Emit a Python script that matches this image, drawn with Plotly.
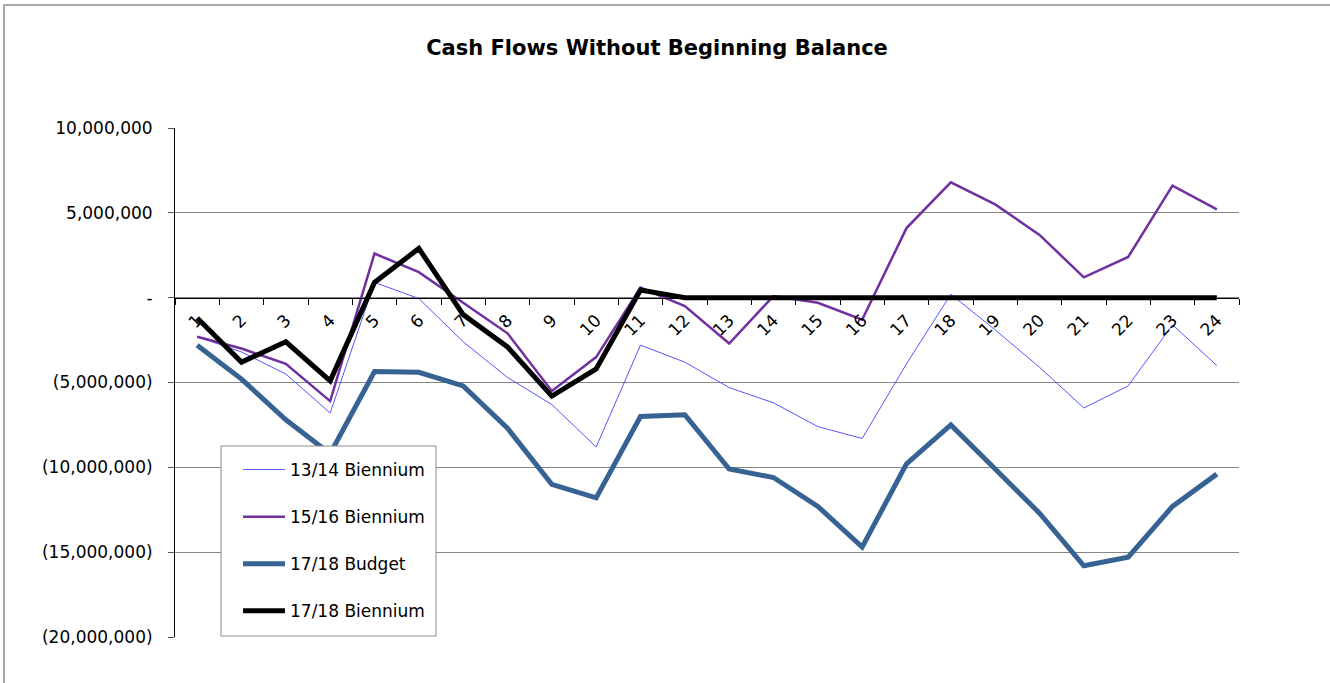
import plotly.graph_objects as go

periods = [str(i) for i in range(1, 25)]

biennium_13_14 = [-2.3e6, -3.2e6, -4.5e6, -6.8e6, 0.9e6, -0.05e6, -2.6e6, -4.7e6, -6.3e6, -8.8e6,
                  -2.8e6, -3.8e6, -5.3e6, -6.2e6, -7.6e6, -8.3e6, -3.9e6, 0.2e6, -1.9e6, -4.1e6,
                  -6.5e6, -5.2e6, -1.6e6, -4.0e6]
biennium_15_16 = [-2.3e6, -3.0e6, -3.9e6, -6.1e6, 2.6e6, 1.5e6, -0.3e6, -2.1e6, -5.5e6, -3.5e6,
                  0.6e6, -0.5e6, -2.7e6, 0.1e6, -0.3e6, -1.3e6, 4.1e6, 6.8e6, 5.5e6, 3.7e6,
                  1.2e6, 2.4e6, 6.6e6, 5.2e6]
budget_17_18 = [-2.8e6, -4.8e6, -7.2e6, -9.2e6, -4.35e6, -4.4e6, -5.2e6, -7.7e6, -11.0e6, -11.8e6,
                -7.0e6, -6.9e6, -10.1e6, -10.6e6, -12.3e6, -14.7e6, -9.8e6, -7.5e6, -10.1e6, -12.7e6,
                -15.8e6, -15.3e6, -12.3e6, -10.4e6]
biennium_17_18 = [-1.2e6, -3.8e6, -2.6e6, -4.9e6, 0.9e6, 2.9e6, -1.0e6, -2.9e6, -5.8e6, -4.2e6,
                  0.45e6, 0.0, 0.0, 0.0, 0.0, 0.0, 0.0, 0.0, 0.0, 0.0,
                  0.0, 0.0, 0.0, 0.0]

y_tickvals = [10e6, 5e6, 0, -5e6, -10e6, -15e6, -20e6]
y_ticktext = ["10,000,000", "5,000,000", "-", "(5,000,000)", "(10,000,000)", "(15,000,000)", "(20,000,000)"]

FONT = "DejaVu Sans, Arial, sans-serif"
FS = 17

fig = go.Figure()
series = [
    ("13/14 Biennium", biennium_13_14, "#5555ff", 1),
    ("15/16 Biennium", biennium_15_16, "#7030A0", 2.5),
    ("17/18 Budget", budget_17_18, "#376294", 5),
    ("17/18 Biennium", biennium_17_18, "#000000", 5),
]
for i, (name, vals, color, w) in enumerate(series):
    fig.add_trace(go.Scatter(x=periods, y=vals, mode="lines", name=name,
                             legendgroup=f"g{i}",
                             line=dict(color=color, width=w)))

L, R, T, B = 175, 91, 128, 46
W, H = 1330, 683
pw, ph = W - L - R, H - T - B


def px(x):
    return (x - L) / pw


def py(y):
    return (H - B - y) / ph


fig.update_layout(
    width=W, height=H,
    margin=dict(l=L, r=R, t=T, b=B),
    paper_bgcolor="white", plot_bgcolor="white",
    font=dict(family=FONT, size=FS, color="black"),
    title=dict(text="<b>Cash Flows Without Beginning Balance</b>",
               font=dict(family=FONT, size=21, color="black"),
               x=657 / W, xref="container", xanchor="center",
               y=1 - 48 / H, yref="container", yanchor="middle"),
    showlegend=True,
    legend=dict(x=px(238), y=py(452), xanchor="left", yanchor="top",
                bgcolor="rgba(0,0,0,0)", borderwidth=0,
                traceorder="grouped", tracegroupgap=22, itemwidth=42,
                font=dict(family=FONT, size=FS, color="black")),
    xaxis=dict(type="category", range=[-0.5, 23.5],
               anchor="free", position=2 / 3,
               showline=True, linecolor="black", linewidth=1,
               ticks="outside", tickson="boundaries", ticklen=6, tickcolor="black",
               tickangle=-45, showgrid=False, zeroline=False,
               ticklabelstandoff=5,
               tickfont=dict(family=FONT, size=FS, color="black")),
    yaxis=dict(range=[-20e6, 10e6], tickvals=y_tickvals, ticktext=y_ticktext,
               showline=True, linecolor="black", linewidth=1,
               ticks="outside", ticklen=6, tickcolor="#555555",
               ticklabelstandoff=12,
               showgrid=True, gridcolor="#868686", gridwidth=1, zeroline=False,
               tickfont=dict(family=FONT, size=FS, color="black")),
)

# outer chart border
fig.add_shape(type="rect", xref="paper", yref="paper",
              x0=px(4), x1=px(1345), y0=py(700), y1=py(5),
              line=dict(color="#8c8c8c", width=1.5), fillcolor="rgba(0,0,0,0)", layer="below")
# legend box
fig.add_shape(type="rect", xref="paper", yref="paper",
              x0=px(221), x1=px(436), y0=py(636), y1=py(446),
              line=dict(color="#8c8c8c", width=1), fillcolor="white", layer="above")

fig.write_html("out.html", config={"displayModeBar": False},
               post_script="document.body.style.margin='0';")
